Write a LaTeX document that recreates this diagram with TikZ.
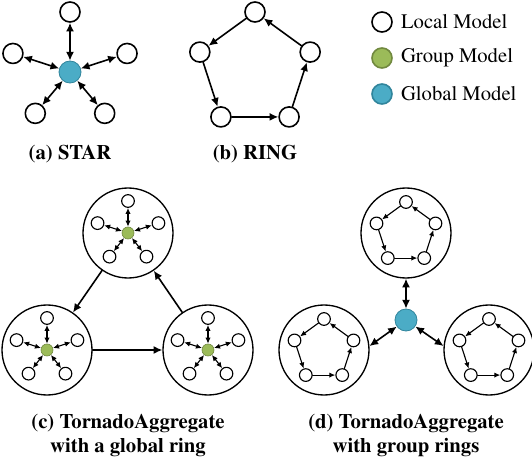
\documentclass[tikz,border=0pt]{standalone}
\usepackage[T1]{fontenc}
\usepackage{mathptmx}
\usetikzlibrary{arrows.meta,positioning}

\definecolor{groupgreen}{RGB}{155,187,89}
\definecolor{groupedge}{RGB}{113,137,63}
\definecolor{globalblue}{RGB}{75,172,198}
\definecolor{globaledge}{RGB}{49,133,156}

\begin{document}
\begin{tikzpicture}[
  x=0.75pt,
  y=0.75pt,
  line cap=round,
  line join=round,
  local/.style={circle, draw, fill=white, line width=1.2pt,
    minimum size=15pt, inner sep=0pt},
  slocal/.style={circle, draw, fill=white, line width=0.85pt,
    minimum size=9.5pt, inner sep=0pt},
  global/.style={circle, draw=globaledge, fill=globalblue, line width=0.6pt,
    minimum size=16.5pt, inner sep=0pt},
  group/.style={circle, draw=groupedge, fill=groupgreen, line width=0.5pt,
    minimum size=9pt, inner sep=0pt},
  cluster/.style={circle, draw, line width=1pt,
    minimum size=67.5pt, inner sep=0pt},
  link/.style={line width=1.2pt, -{Latex[length=6.5pt,width=6pt]}},
  dlink/.style={line width=1.2pt,
    {Latex[length=6.5pt,width=6pt]}-{Latex[length=6.5pt,width=6pt]}},
  slink/.style={line width=0.85pt, -{Latex[length=4.5pt,width=4pt]}},
  sdlink/.style={line width=0.85pt,
    {Latex[length=4.5pt,width=4pt]}-{Latex[length=4.5pt,width=4pt]}},
  caption/.style={font=\bfseries\fontsize{15.5}{18}\selectfont, align=center},
  legtext/.style={font=\fontsize{15.5}{18}\selectfont, inner sep=0pt}
]
  \useasboundingbox (0,0) rectangle (532,-460);

  % (a) Sterntopologie
  \node[global] (a0) at (70,-72) {};
  \foreach \i/\a/\r in {1/90/60, 2/162/60, 3/230/54, 4/310/54, 5/18/60}{
    \node[local] (a\i) at ([shift={(\a:\r)}]a0) {};
    \draw[dlink] (a0) -- (a\i);
  }

  % (b) Ringtopologie
  \coordinate (b0) at (255,-70);
  \foreach \i/\a in {1/90, 2/162, 3/234, 4/306, 5/18}
    \node[local] (b\i) at ([shift={(\a:58)}]b0) {};
  \foreach \i/\j in {1/2, 2/3, 3/4, 4/5, 5/1}
    \draw[link] (b\i) -- (b\j);

  % Legende
  \node[local] (k1) at (382,-22) {};
  \node[local, fill=groupgreen, draw=groupedge] (k2) at (382,-58) {};
  \node[local, fill=globalblue, draw=globaledge] (k3) at (382,-94) {};
  \node[legtext, right=6pt of k1] (t1) {Local Model};
  \node[legtext, right=6pt of k2] (t2) {Group Model};
  \node[legtext, right=6pt of k3] (t3) {Global Model};

  % (c) Gruppensterne im globalen Ring
  \foreach \c/\x/\y in {ct/128/233, cl/47/350, cr/208/350}{
    \node[cluster] (\c) at (\x,-\y) {};
    \node[group] (\c0) at (\c) {};
    \foreach \i/\a/\r in {1/90/32, 2/162/32, 3/232/30, 4/308/30, 5/18/32}{
      \node[slocal] (\c\i) at ([shift={(\a:\r)}]\c) {};
      \draw[sdlink] (\c0) -- (\c\i);
    }
  }
  \draw[link] (ct) -- (cl);
  \draw[link] (cl) -- (cr);
  \draw[link] (cr) -- (ct);

  % (d) Gruppenringe um das globale Modell
  \node[global] (d0) at (406,-320) {};
  \foreach \c/\x/\y in {dt/406/233, dl/324/350, dr/489/350}{
    \node[cluster] (\c) at (\x,-\y) {};
    \foreach \i/\a in {1/90, 2/162, 3/234, 4/306, 5/18}
      \node[slocal] (\c\i) at ([shift={(\a:31)}]\c) {};
    \foreach \i/\j in {1/2, 2/3, 3/4, 4/5, 5/1}
      \draw[slink] (\c\i) -- (\c\j);
  }
  \draw[dlink] (d0) -- (dt);
  \draw[dlink] (d0) -- (dl.5);
  \draw[dlink] (d0) -- (dr.175);

  % Beschriftungen
  \node[caption] (ca) at (70,-154) {(a) STAR};
  \node[caption] (cb) at (255,-154) {(b) RING};
  \node[caption] (cc) at (128,-435) {(c) TornadoAggregate\\with a global ring};
  \node[caption] (cd) at (406,-435) {(d) TornadoAggregate\\with group rings};
\end{tikzpicture}
\end{document}
